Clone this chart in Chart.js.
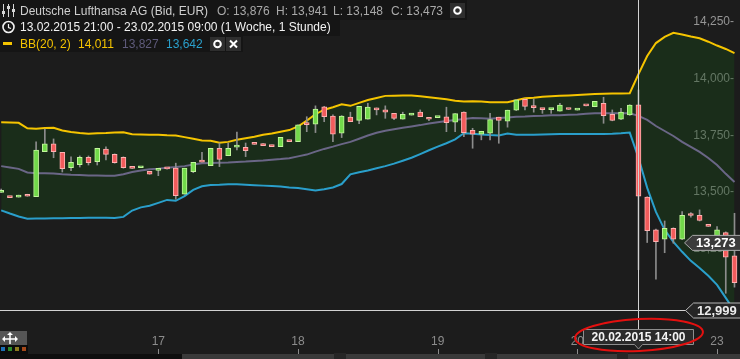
<!DOCTYPE html>
<html>
<head>
<meta charset="utf-8">
<script src="https://cdn.jsdelivr.net/npm/chart.js@4.4.1/dist/chart.umd.min.js"></script>
<style>
  html, body { margin: 0; padding: 0; background: #1c1c1c; overflow: hidden; }
  #wrap { width: 740px; height: 359px; }
</style>
</head>
<body>
<div id="wrap"><canvas id="chart" width="740" height="359"></canvas></div>
<script>
// Lufthansa hourly candles, 13.02.2015 21:00 .. 23.02.2015 09:00 (07:00-22:00 sessions)
const opens = [13.489,13.469,13.468,13.481,13.470,13.669,13.703,13.666,13.598,13.612,
  13.644,13.625,13.680,13.657,13.644,13.599,13.598,13.582,13.586,13.595,
  13.596,13.481,13.581,13.627,13.607,13.684,13.651,13.689,13.688,13.704,
  13.704,13.698,13.691,13.716,13.713,13.791,13.790,13.867,13.826,13.750,
  13.821,13.807,13.812,13.862,13.853,13.838,13.812,13.830,13.843,13.815,
  13.819,13.823,13.799,13.843,13.763,13.746,13.750,13.821,13.803,13.852,
  13.900,13.869,13.860,13.854,13.847,13.857,13.852,13.873,13.867,13.882,
  13.834,13.812,13.831,13.876,13.468,13.324,13.283,13.331,13.283,13.390,
  13.388,13.341,13.294,13.312,13.209];
const highs = [13.504,13.469,13.477,13.481,13.712,13.769,13.725,13.666,13.646,13.650,
  13.650,13.684,13.690,13.659,13.646,13.599,13.601,13.582,13.590,13.596,
  13.618,13.596,13.622,13.666,13.684,13.707,13.707,13.755,13.707,13.704,
  13.704,13.698,13.732,13.716,13.787,13.823,13.871,13.869,13.831,13.828,
  13.843,13.869,13.882,13.862,13.871,13.838,13.843,13.838,13.853,13.815,
  13.822,13.865,13.837,13.845,13.772,13.759,13.838,13.821,13.852,13.899,
  13.902,13.901,13.860,13.860,13.882,13.857,13.857,13.873,13.891,13.909,
  13.853,13.860,13.876,13.941,13.470,13.327,13.363,13.333,13.404,13.400,
  13.412,13.341,13.338,13.315,13.397];
const lows = [13.489,13.466,13.468,13.472,13.470,13.669,13.642,13.579,13.585,13.601,
  13.610,13.610,13.632,13.618,13.596,13.595,13.598,13.569,13.563,13.592,
  13.459,13.481,13.576,13.623,13.607,13.603,13.651,13.676,13.647,13.701,
  13.695,13.691,13.691,13.713,13.713,13.757,13.753,13.801,13.713,13.731,
  13.801,13.792,13.812,13.831,13.816,13.810,13.812,13.830,13.823,13.806,
  13.819,13.757,13.757,13.735,13.684,13.721,13.721,13.706,13.777,13.850,
  13.853,13.843,13.838,13.838,13.847,13.855,13.852,13.871,13.867,13.794,
  13.805,13.810,13.829,13.148,13.268,13.106,13.223,13.265,13.281,13.380,
  13.363,13.339,13.288,13.044,13.071];
const closes = [13.495,13.466,13.477,13.472,13.676,13.703,13.669,13.594,13.622,13.644,
  13.620,13.684,13.657,13.620,13.598,13.595,13.601,13.569,13.590,13.593,
  13.475,13.596,13.622,13.623,13.684,13.635,13.684,13.693,13.673,13.701,
  13.695,13.691,13.732,13.713,13.787,13.788,13.857,13.823,13.746,13.826,
  13.801,13.869,13.866,13.853,13.843,13.816,13.834,13.838,13.823,13.812,
  13.822,13.797,13.837,13.753,13.746,13.759,13.810,13.807,13.852,13.897,
  13.869,13.863,13.854,13.860,13.874,13.855,13.857,13.871,13.891,13.828,
  13.807,13.843,13.874,13.473,13.320,13.272,13.331,13.283,13.388,13.387,
  13.365,13.339,13.324,13.203,13.091];

// Bollinger bands BB(20, 2)
const bbUpper = [13.799,13.798,13.796,13.772,13.770,13.773,13.774,13.762,13.756,13.751,
  13.748,13.750,13.751,13.753,13.754,13.746,13.745,13.743,13.743,13.741,
  13.740,13.733,13.726,13.718,13.717,13.708,13.712,13.721,13.728,13.735,
  13.743,13.749,13.757,13.764,13.780,13.806,13.834,13.854,13.865,13.878,
  13.871,13.884,13.897,13.906,13.915,13.916,13.917,13.917,13.913,13.909,
  13.905,13.900,13.893,13.890,13.891,13.890,13.887,13.887,13.887,13.896,
  13.904,13.907,13.911,13.913,13.915,13.917,13.919,13.921,13.923,13.924,
  13.925,13.926,13.927,14.011,14.091,14.148,14.175,14.193,14.186,14.177,
  14.169,14.154,14.137,14.122,14.104];
const bbMiddle = [13.605,13.599,13.593,13.577,13.574,13.574,13.573,13.569,13.567,13.566,
  13.564,13.564,13.563,13.563,13.569,13.579,13.586,13.591,13.594,13.598,
  13.601,13.605,13.612,13.618,13.619,13.620,13.621,13.623,13.625,13.628,
  13.630,13.633,13.636,13.640,13.648,13.656,13.669,13.681,13.691,13.702,
  13.712,13.726,13.740,13.752,13.761,13.768,13.774,13.780,13.786,13.793,
  13.799,13.804,13.809,13.813,13.817,13.816,13.814,13.817,13.820,13.823,
  13.824,13.826,13.827,13.829,13.830,13.832,13.833,13.836,13.838,13.838,
  13.838,13.838,13.838,13.827,13.809,13.782,13.760,13.738,13.712,13.690,
  13.668,13.641,13.610,13.571,13.535];
const bbLower = [13.410,13.396,13.383,13.373,13.374,13.374,13.375,13.375,13.376,13.376,
  13.377,13.377,13.377,13.376,13.381,13.409,13.423,13.430,13.443,13.456,
  13.452,13.473,13.500,13.516,13.522,13.523,13.525,13.525,13.523,13.521,
  13.519,13.517,13.515,13.511,13.508,13.503,13.497,13.503,13.511,13.526,
  13.569,13.578,13.586,13.596,13.605,13.616,13.629,13.642,13.658,13.675,
  13.691,13.706,13.723,13.750,13.748,13.745,13.742,13.740,13.749,13.744,
  13.743,13.744,13.745,13.746,13.747,13.747,13.747,13.747,13.747,13.747,
  13.748,13.750,13.753,13.642,13.509,13.403,13.324,13.271,13.227,13.187,
  13.156,13.121,13.081,13.024,12.966];

const dayTicks = [2, 18, 34, 50, 66, 82];
const dayLabels = ['16', '17', '18', '19', '20', '23'];
const priceTicks = [13.25, 13.5, 13.75, 14.0, 14.25];   // 13,000 sits under the crosshair label

const crossIndex = 73;          // 20.02.2015 14:00
const crossTime = '20.02.2015 14:00';
const crossLine = 12.971;       // where the horizontal crosshair sits
const crossLabel = '12,999';
const lastPrice = 13.273;

const FONT = '"Liberation Sans", Arial, sans-serif';
const fmt = v => v.toFixed(3).replace('.', ',');

const up = opens.map((o, i) => closes[i] >= o);
const candleBodies = opens.map((o, i) => ({ x: i, y: [o, closes[i]] }));
const candleWicks = lows.map((l, i) => ({ x: i, y: [l, highs[i]] }));
const asPoints = arr => arr.map((v, i) => ({ x: i, y: v }));

function arrowBox(ctx, x0, yc, w, h, fill, stroke) {
  ctx.beginPath();
  ctx.moveTo(x0, yc);
  ctx.lineTo(x0 + 8, yc - h / 2);
  ctx.lineTo(x0 + w, yc - h / 2);
  ctx.lineTo(x0 + w, yc + h / 2);
  ctx.lineTo(x0 + 8, yc + h / 2);
  ctx.closePath();
  ctx.fillStyle = fill;
  ctx.fill();
  ctx.strokeStyle = stroke;
  ctx.lineWidth = 1;
  ctx.stroke();
}

const overlay = {
  id: 'overlay',
  beforeDraw(chart) {
    const c = chart.ctx;
    c.save();
    c.fillStyle = '#1c1c1c';
    c.fillRect(0, 0, chart.width, chart.height);
    c.restore();
  },
  afterDraw(chart) {
    const c = chart.ctx;
    const xs = chart.scales.x, ys = chart.scales.y;
    c.save();

    // crosshair
    const cx = Math.round(xs.getPixelForValue(crossIndex)) + 0.5;
    const cy = Math.round(ys.getPixelForValue(crossLine)) + 0.5;
    c.strokeStyle = '#d2d2d2';
    c.lineWidth = 1;
    c.beginPath();
    c.moveTo(cx, 0); c.lineTo(cx, 329);
    c.moveTo(0, cy); c.lineTo(686, cy);
    c.stroke();

    // price labels on the right
    const ly = ys.getPixelForValue(lastPrice);
    arrowBox(c, 684.5, ly + 1.5, 56, 15, '#3b3b3b', '#a8a8a8');
    c.fillStyle = '#ffffff';
    c.font = 'bold 13px ' + FONT;
    c.textBaseline = 'middle';
    c.textAlign = 'left';
    c.fillText(fmt(lastPrice), 696, ly + 2);
    arrowBox(c, 685.5, cy, 56, 15, '#252525', '#b5b5b5');
    c.fillStyle = '#ececec';
    c.fillText(crossLabel, 697, cy + 0.5);

    // x tick marks under the labels
    c.strokeStyle = '#8c8c8c';
    c.lineWidth = 1;
    c.beginPath();
    dayTicks.forEach(v => {
      const x = Math.round(xs.getPixelForValue(v)) + 0.5;
      c.moveTo(x, 349); c.lineTo(x, 354);
    });
    c.stroke();

    // date label at the crosshair
    c.fillStyle = '#2b2b2b';
    c.strokeStyle = '#8e8e8e';
    c.beginPath();
    c.moveTo(583.5, 329.5); c.lineTo(693.5, 329.5); c.lineTo(693.5, 344.5);
    c.lineTo(cx + 4, 344.5); c.lineTo(cx, 349); c.lineTo(cx - 4, 344.5);
    c.lineTo(583.5, 344.5); c.closePath();
    c.fill(); c.stroke();
    c.fillStyle = '#f4f4f4';
    c.font = 'bold 12px ' + FONT;
    c.textAlign = 'center';
    c.fillText(crossTime, 638.5, 337.5);

    // red hand-drawn ring
    c.strokeStyle = '#e4100f';
    c.lineWidth = 2;
    c.beginPath();
    c.ellipse(639, 335, 64, 16, -0.05, 0, Math.PI * 2);
    c.stroke();

    // bottom scroll strip
    c.fillStyle = '#0e0e0e';
    c.fillRect(0, 354, 740, 5);
    c.fillStyle = '#3a3a3a';
    [[182, 334], [346, 485], [497, 617], [628, 740]].forEach(([a, b]) => c.fillRect(a, 354, b - a, 5));
    c.fillStyle = '#262626';
    [[334, 346], [485, 497], [617, 628]].forEach(([a, b]) => c.fillRect(a, 353, b - a, 6));

    // move icon + colour squares bottom-left
    c.fillStyle = '#0c0c0c';
    c.fillRect(0, 345, 28, 9);
    ['#1d6fb5', '#2b8a2b', '#8c7a1e', '#a4481a'].forEach((col, i) => {
      c.fillStyle = col;
      c.fillRect(1 + i * 7, 347, 4, 4);
    });
    c.fillStyle = '#555555';
    c.fillRect(0, 331, 27, 14);
    c.strokeStyle = '#ffffff';
    c.lineWidth = 1.5;
    c.beginPath();
    c.moveTo(4, 339); c.lineTo(16, 339);
    c.moveTo(10, 334); c.lineTo(10, 344);
    c.stroke();
    c.fillStyle = '#ffffff';
    c.beginPath();
    c.moveTo(10, 332); c.lineTo(7, 335); c.lineTo(13, 335); c.closePath();
    c.moveTo(2, 339); c.lineTo(5, 336); c.lineTo(5, 342); c.closePath();
    c.moveTo(18, 339); c.lineTo(15, 336); c.lineTo(15, 342); c.closePath();
    c.fill();

    // header boxes
    c.fillStyle = '#151515';
    c.fillRect(0, 0, 467, 20);
    c.fillRect(0, 20, 340, 16);
    c.fillRect(0, 36, 243, 16);

    c.font = '12px ' + FONT;
    c.textAlign = 'left';
    c.textBaseline = 'alphabetic';
    c.fillStyle = '#cfcfcf';
    c.fillText('Deutsche Lufthansa AG (Bid, EUR)', 20, 15);
    c.fillStyle = '#a9a9a9';
    c.fillText('O: ' + fmt(opens[crossIndex]), 217, 15);
    c.fillText('H: ' + fmt(highs[crossIndex]), 276, 15);
    c.fillText('L: ' + fmt(lows[crossIndex]), 333, 15);
    c.fillText('C: ' + fmt(closes[crossIndex]), 391, 15);

    c.fillStyle = '#f2f2f2';
    c.fillText('13.02.2015 21:00 - 23.02.2015 09:00 (1 Woche, 1 Stunde)', 20, 31);

    c.fillStyle = '#f5c400';
    c.fillRect(3, 42, 9, 3);
    c.fillText('BB(20, 2)', 20, 48);
    c.fillText(fmt(bbUpper[crossIndex]), 78, 48);
    c.fillStyle = '#5f5b7c';
    c.fillText(fmt(bbMiddle[crossIndex]), 122, 48);
    c.fillStyle = '#2aa0cc';
    c.fillText(fmt(bbLower[crossIndex]), 166, 48);

    // header buttons
    c.fillStyle = '#2e2e2e';
    c.fillRect(450, 3, 15, 15);
    c.fillRect(210, 37, 15, 14);
    c.fillRect(226, 37, 15, 14);
    c.strokeStyle = '#ffffff';
    c.lineWidth = 2;
    c.beginPath(); c.arc(457.5, 10.5, 3.3, 0, Math.PI * 2); c.stroke();
    c.beginPath(); c.arc(217.5, 44, 3.3, 0, Math.PI * 2); c.stroke();
    c.beginPath();
    c.moveTo(230, 40.5); c.lineTo(237, 47.5);
    c.moveTo(237, 40.5); c.lineTo(230, 47.5);
    c.stroke();

    // equalizer icon
    c.strokeStyle = '#d6d6d6';
    c.lineWidth = 1;
    c.beginPath();
    [3.5, 8.5, 13.5].forEach(x => { c.moveTo(x, 4); c.lineTo(x, 17); });
    c.stroke();
    c.fillStyle = '#d6d6d6';
    c.fillRect(2, 11, 3, 3);
    c.fillRect(7, 6, 3, 3);
    c.fillRect(12, 9, 3, 3);

    // clock icon
    c.strokeStyle = '#f2f2f2';
    c.lineWidth = 1.6;
    c.beginPath(); c.arc(8.5, 27, 5.5, 0, Math.PI * 2); c.stroke();
    c.lineWidth = 1.2;
    c.beginPath(); c.moveTo(8.5, 24); c.lineTo(8.5, 27.5); c.lineTo(11, 28.5); c.stroke();

    c.restore();
  }
};

new Chart(document.getElementById('chart'), {
  type: 'bar',
  data: {
    datasets: [
      {
        type: 'bar', data: candleBodies, grouped: false, order: 0,
        backgroundColor: up.map(u => u ? '#72d94a' : '#f25c5c'),
        borderColor: up.map(u => u ? '#c2f79c' : '#ffb1b1'),
        borderWidth: 1, borderSkipped: false, barThickness: 5, minBarLength: 2
      },
      {
        type: 'bar', data: candleWicks, grouped: false, order: 1,
        backgroundColor: '#8c8c8c', borderWidth: 0, barThickness: 1
      },
      {
        type: 'line', data: asPoints(bbUpper), order: 4,
        borderColor: '#f5c400', borderWidth: 2, pointRadius: 0, tension: 0,
        fill: 4, backgroundColor: 'rgba(25,73,25,0.4)'
      },
      {
        type: 'line', data: asPoints(bbMiddle), order: 3,
        borderColor: '#6a6686', borderWidth: 2, pointRadius: 0, tension: 0, fill: false
      },
      {
        type: 'line', data: asPoints(bbLower), order: 2,
        borderColor: '#2a9fcb', borderWidth: 2, pointRadius: 0, tension: 0, fill: false
      }
    ]
  },
  options: {
    responsive: false,
    animation: false,
    devicePixelRatio: 1,
    layout: { padding: 0 },
    plugins: { legend: { display: false }, tooltip: { enabled: false } },
    scales: {
      x: {
        type: 'linear', min: -0.137, max: 84.63, offset: false,
        grid: { display: false, drawTicks: false }, border: { display: false },
        afterBuildTicks: s => { s.ticks = dayTicks.map(v => ({ value: v })); },
        afterFit: s => { s.height = 29; s.paddingLeft = 0; s.paddingRight = 0; },
        ticks: {
          color: '#8c8c8c', font: { family: FONT, size: 12 }, padding: 4,
          maxRotation: 0, autoSkip: false,
          callback: v => dayLabels[dayTicks.indexOf(v)]
        }
      },
      y: {
        position: 'right', min: 12.882, max: 14.338,
        grid: { display: false, drawTicks: false }, border: { display: false },
        afterBuildTicks: s => { s.ticks = priceTicks.map(v => ({ value: v })); },
        afterFit: s => { s.width = 0; s.paddingTop = 0; s.paddingBottom = 0; },
        ticks: {
          mirror: true, padding: -6, labelOffset: 2, color: '#959595',
          font: { family: FONT, size: 12 },
          callback: v => fmt(v) + '-'
        }
      }
    }
  },
  plugins: [overlay]
});
</script>
</body>
</html>
